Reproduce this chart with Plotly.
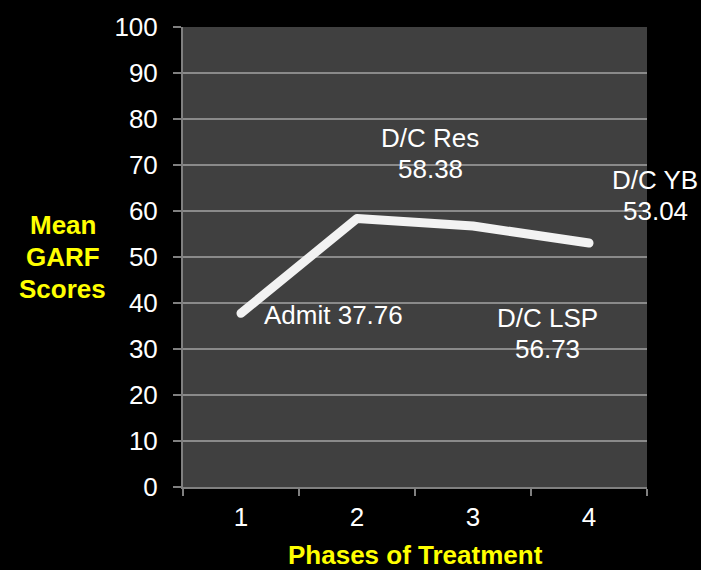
import plotly.graph_objects as go

phases = ["1", "2", "3", "4"]
scores = [37.76, 58.38, 56.73, 53.04]
label_lines = [["Admit 37.76"], ["D/C Res", "58.38"], ["D/C LSP", "56.73"], ["D/C YB", "53.04"]]
y_ticks = list(range(0, 101, 10))

FONT = "Liberation Sans, Arial, sans-serif"
FS = 26
LINE_GAP = 31

# plot area geometry (pixels)
LEFT, RIGHT, TOP, BOTTOM = 183, 647, 22, 487
PW, PH = RIGHT - LEFT, BOTTOM - TOP

fig = go.Figure()
fig.add_trace(go.Scatter(
    x=phases, y=scores, mode="lines",
    line=dict(color="#f2f2f2", width=9),
    hoverinfo="skip", showlegend=False,
))

# label placement (pixel shift of first line relative to each data point)
offsets = [(21, -2, "left"), (73, 80, "center"), (74, -92, "center"), (66, 63, "center")]
for i, (yv, lines, (dx, dy, anc)) in enumerate(zip(scores, label_lines, offsets)):
    for k, line in enumerate(lines):
        fig.add_annotation(x=i, y=yv, text=line, showarrow=False,
                           xshift=dx, yshift=dy - k * LINE_GAP, xanchor=anc, yanchor="middle",
                           font=dict(color="white", size=FS, family=FONT))

y_title_lines = ["Mean", "GARF", "Scores"]
for k, line in enumerate(y_title_lines):
    fig.add_annotation(xref="paper", yref="paper", x=(63 - LEFT) / PW,
                       y=(BOTTOM - (222 + 32.5 * k)) / PH,
                       text=line, showarrow=False, xanchor="center", yanchor="middle",
                       font=dict(color="#ffff00", size=FS, family=FONT, weight="bold"))
fig.add_annotation(xref="paper", yref="paper", x=(415 - LEFT) / PW, y=(BOTTOM - 556) / PH,
                   text="Phases of Treatment", showarrow=False,
                   xanchor="center", yanchor="middle",
                   font=dict(color="#ffff00", size=FS, family=FONT, weight="bold"))

fig.update_layout(
    width=701, height=570,
    margin=dict(l=LEFT, r=701 - RIGHT, t=TOP, b=570 - BOTTOM),
    paper_bgcolor="black", plot_bgcolor="#404040",
    font=dict(family=FONT, color="white", size=FS),
    xaxis=dict(type="category", range=[-0.5, 3.5], tickson="boundaries",
               ticks="outside", ticklen=7, tickcolor="#808080", tickwidth=2,
               showline=True, linecolor="#808080", linewidth=2,
               showgrid=False, zeroline=False, ticklabelstandoff=6,
               tickfont=dict(size=FS, color="white")),
    yaxis=dict(range=[0, 100], tickvals=y_ticks, ticks="outside", ticklen=8,
               tickcolor="#808080", tickwidth=2,
               showline=True, linecolor="#808080", linewidth=2,
               showgrid=True, gridcolor="#8a8a8a", gridwidth=2, zeroline=False,
               ticklabelstandoff=10,
               tickfont=dict(size=FS, color="white")),
)

fig.write_html(
    "out.html",
    config={"displayModeBar": False},
    post_script="document.body.style.margin='0';document.body.style.background='black';"
                "document.body.style.overflow='hidden';"
                "document.querySelectorAll('.scatterlayer path.js-line').forEach(function(p){"
                "p.style.strokeLinecap='round';p.style.strokeLinejoin='round';});",
)
